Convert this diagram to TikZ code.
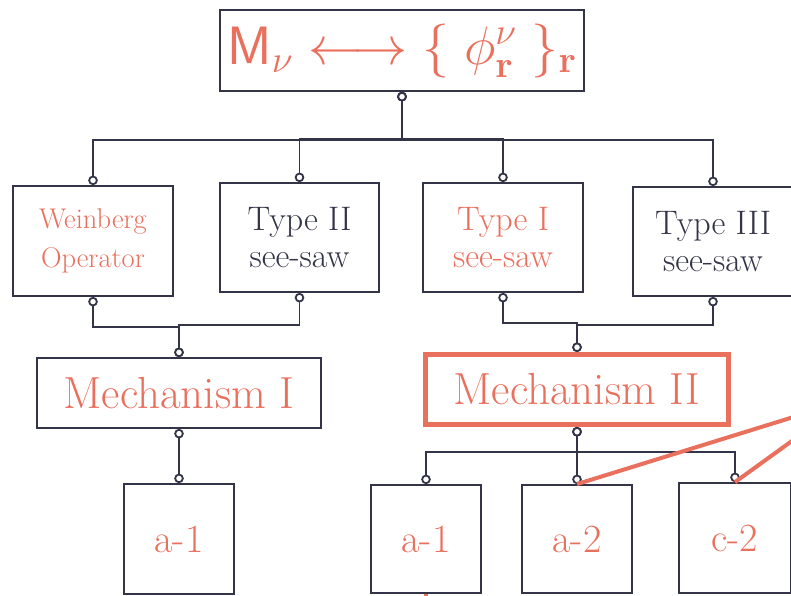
\RequirePackage{fix-cm}
\documentclass[tikz,border=0pt]{standalone}
\usetikzlibrary{arrows.meta}
\definecolor{accent}{RGB}{234,112,94}
\definecolor{ink}{RGB}{52,52,72}
\tikzset{
  box/.style={draw=ink, line width=1.8pt, rectangle, inner sep=0pt, align=center},
  hibox/.style={draw=accent, line width=5pt, rectangle, inner sep=0pt, align=center},
  conn/.style={draw=ink, line width=1.8pt,
    {Circle[open,fill=white,length=9.5pt,width=9.5pt]}-{Circle[open,fill=white,length=9.5pt,width=9.5pt]}},
  accentline/.style={draw=accent, line width=4pt},
  typefont/.style={font=\fontsize{34}{37}\selectfont},
  smallfont/.style={font=\fontsize{28.5}{39}\selectfont},
  mechfont/.style={font=\fontsize{45}{50}\selectfont},
  leaffont/.style={font=\fontsize{40}{44}\selectfont, text=accent},
}
\begin{document}
\begin{tikzpicture}[x=1pt,y=-1pt]
\useasboundingbox (0,0) rectangle (791,595);
\clip (0,0) rectangle (791,595);

% top
\node[box, minimum width=364pt, minimum height=81pt, text=accent,
      font=\fontsize{54}{60}\selectfont] (top) at (402,50.5)
  {$\mathsf{M}_\nu \longleftrightarrow \{\;\phi^{\nu}_{\mathbf r}\;\}_{\mathbf r}$};

% second row
\node[box, smallfont, text=accent, minimum width=160pt, minimum height=110pt] (wein) at (93,241) {Weinberg\\Operator};
\node[box, typefont, text=ink, minimum width=159pt, minimum height=109pt] (t2) at (299.5,237.5) {Type II\\see-saw};
\node[box, typefont, text=accent, minimum width=160pt, minimum height=109pt] (t1) at (503,237.5) {Type I\\see-saw};
\node[box, typefont, text=ink, minimum width=160pt, minimum height=109pt] (t3) at (713,241.5) {Type III\\see-saw};

% mechanisms
\node[box, mechfont, text=accent, minimum width=284pt, minimum height=70pt] (m1) at (179,393) {Mechanism I};
\node[hibox, mechfont, text=accent, minimum width=303pt, minimum height=70pt] (m2) at (577,389.5) {Mechanism II};

% leaves
\node[box, leaffont, minimum width=110pt, minimum height=110pt] (b1) at (179,539) {a-1};
\node[box, leaffont, minimum width=110pt, minimum height=108pt] (b2) at (426,539) {a-1};
\node[box, leaffont, minimum width=110pt, minimum height=108pt] (b3) at (577,539) {a-2};
\node[box, leaffont, minimum width=112pt, minimum height=110pt] (b4) at (735,538) {c-2};

% connectors top -> row 2
\draw[conn] (top.south) -- ++(0,48) -| (wein.north);
\draw[conn] (top.south) -- ++(0,48) -| (t3.north);
\draw[conn] (top.south) -- ++(0,46.5) -| (t2.north);
\draw[conn] (top.south) -- ++(0,46.5) -| (t1.north);

% row 2 -> mechanisms
\draw[conn] (wein.south) -- ++(0,30) -| (m1.north);
\draw[conn] (t2.south) -- ++(0,32) -| (m1.north);
\draw[conn] (t1.south) -- ++(0,30) -| (m2.north);
\draw[conn] (t3.south) -- ++(0,28) -| (m2.north);

% mechanisms -> leaves
\draw[conn] (m1.south) -- (b1.north);
\draw[conn] (m2.south) -- ++(0,25) -| (b2.north);
\draw[conn] (m2.south) -- ++(0,25) -| (b3.north);
\draw[conn] (m2.south) -- ++(0,25) -| (b4.north);

% orange lines leaving the picture
\coordinate (e1) at (850,399.5);
\coordinate (e2) at (850,399);
\coordinate (e3) at (426,640);
\draw[accentline] (b3.north) -- (e1);
\draw[accentline] (b4.north) -- (e2);
\draw[accentline] (b2.south) -- (e3);
\end{tikzpicture}
\end{document}
